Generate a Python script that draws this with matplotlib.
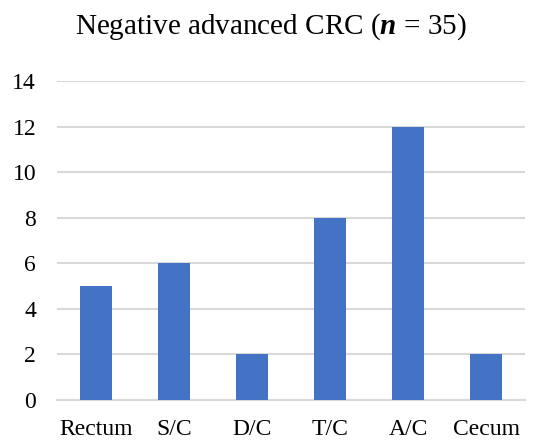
import matplotlib
matplotlib.use('Agg')
import matplotlib.pyplot as plt

categories = ['Rectum', 'S/C', 'D/C', 'T/C', 'A/C', 'Cecum']
counts = [5, 6, 2, 8, 12, 2]
yticks = [0, 2, 4, 6, 8, 10, 12, 14]

plt.rcParams['font.family'] = ['Liberation Serif', 'DejaVu Serif']
plt.rcParams['mathtext.fontset'] = 'custom'
plt.rcParams['mathtext.rm'] = 'Liberation Serif'
plt.rcParams['mathtext.it'] = 'Liberation Serif:italic'
plt.rcParams['mathtext.bf'] = 'Liberation Serif:bold'
plt.rcParams['mathtext.bfit'] = 'Liberation Serif:bold:italic'


def main():
    fig = plt.figure(figsize=(5.42, 4.41), dpi=100)
    ax = fig.add_axes([0.105, 0.093, 0.864, 0.723])

    x = range(len(categories))
    ax.bar(x, counts, width=0.41, color='#4472C4', zorder=3)

    ax.set_xlim(-0.5, len(categories) - 0.5)
    ax.set_ylim(0, 14)
    ax.set_yticks(yticks)
    ax.set_xticks(list(x))
    ax.set_xticklabels(categories)
    ax.grid(axis='y', color='#d9d9d9', linewidth=1.5, zorder=0)
    ax.tick_params(axis='both', length=0, labelsize=17, colors='black')
    ax.tick_params(axis='y', pad=15)
    ax.tick_params(axis='x', pad=14)
    for s in ['top', 'right', 'left']:
        ax.spines[s].set_visible(False)
    ax.spines['bottom'].set_color('#d9d9d9')
    ax.spines['bottom'].set_linewidth(1.5)

    fig.text(0.5, 0.94, r'Negative advanced CRC ($\mathbfit{n}$ = 35)',
             ha='center', va='center', fontsize=21)

    fig.savefig('out.png', dpi=100)


if __name__ == '__main__':
    main()
